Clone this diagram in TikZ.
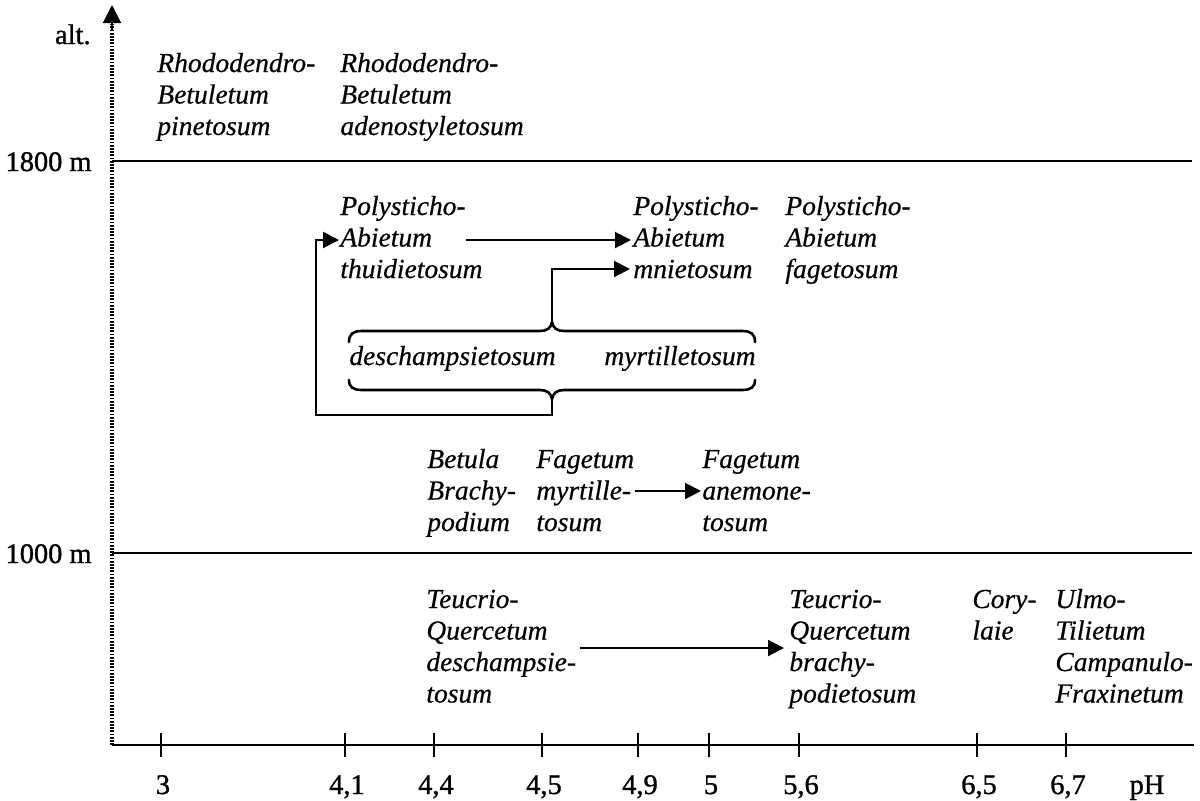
\documentclass[tikz,border=0pt]{standalone}
\usepackage{fontspec}
\setmainfont{Liberation Serif}
\newfontfamily\itf[FakeBold=0.5]{Liberation Serif}
\newfontfamily\labf[FakeBold=1.2]{Liberation Serif}
\usetikzlibrary{arrows.meta}
\newcommand\stk[1]{\begin{tabular}[t]{@{}l@{}}#1\end{tabular}}
\begin{document}
\begin{tikzpicture}[x=0.5pt,y=-0.5pt,
  txt/.style={anchor=base west, inner sep=0pt, font=\itf\fontsize{13.75}{15.75}\selectfont\itshape},
  lab/.style={inner sep=0pt, font=\labf\fontsize{14.2}{16}\selectfont},
  conn/.style={line width=1pt, -{Triangle[length=8pt,width=8pt]}},
  brace/.style={line width=1.3pt, line cap=round},
  lvl/.style={line width=1.1pt},
  tick/.style={line width=0.9pt}]
\useasboundingbox (0,0) rectangle (1200,800);

% axes
\coordinate (O) at (112,745);
\coordinate (Ytop) at (112,5);
\coordinate (Xend) at (1194,745);
\draw[line width=1.6pt, dash pattern=on 0.9pt off 0.7pt] (O) -- (112,24);
\draw[line width=1pt, -{Triangle[length=9pt,width=9pt]}] (112,30) -- (Ytop);
\draw[line width=1.4pt] (O) -- (Xend);
\coordinate (L18a) at (112,161); \coordinate (L18b) at (1192,161);
\coordinate (L10a) at (112,553); \coordinate (L10b) at (1192,553);
\draw[lvl] (L18a) -- (L18b);
\draw[lvl] (L10a) -- (L10b);

\node[lab, anchor=base east] (alt) at (91,44) {alt.};
\node[lab, anchor=base east] (m1800) at (92,171) {1800 m};
\node[lab, anchor=base east] (m1000) at (92,563) {1000 m};

% ticks and labels
\foreach \x/\l [count=\i] in {161/3,345/{4,1},434/{4,4},542/{4,5},638/{4,9},709/5,799/{5,6},977/{6,5},1066/{6,7}}{
  \draw[tick] (\x,733) -- (\x,757);
  \node[lab, anchor=base] (t\i) at (\x+2,794) {\l};
}
\node[lab, anchor=base] (pH) at (1147,794) {pH};

% texts
\node[txt] (A) at (157,72) {\stk{Rhododendro-\\Betuletum\\pinetosum}};
\node[txt] (B) at (340,72) {\stk{Rhododendro-\\Betuletum\\adenostyletosum}};
\node[txt] (C) at (340,215) {\stk{Polysticho-\\Abietum\\thuidietosum}};
\node[txt] (D) at (633,215) {\stk{Polysticho-\\Abietum\\mnietosum}};
\node[txt] (E) at (785,215) {\stk{Polysticho-\\Abietum\\fagetosum}};
\node[txt] (F1) at (349,365) {deschampsietosum};
\node[txt, anchor=base east] (F2) at (756,365) {myrtilletosum};
\node[txt] (G) at (427,468) {\stk{Betula\\Brachy-\\podium}};
\node[txt] (H) at (536,468) {\stk{Fagetum\\myrtille-\\tosum}};
\node[txt] (I) at (702,468) {\stk{Fagetum\\anemone-\\tosum}};
\node[txt] (J) at (426,608) {\stk{Teucrio-\\Quercetum\\deschampsie-\\tosum}};
\node[txt] (K) at (789,608) {\stk{Teucrio-\\Quercetum\\brachy-\\podietosum}};
\node[txt] (L) at (972,608) {\stk{Cory-\\laie}};
\node[txt] (M) at (1055,608) {\stk{Ulmo-\\Tilietum\\Campanulo-\\Fraxinetum}};

% braces
\coordinate (ub) at (552,322);
\coordinate (lb) at (552,399);
\draw[brace] (349,342) .. controls (349,334) and (353,331) .. (362,331) -- (540,331)
  .. controls (547,331) and (551,328) .. (ub)
  .. controls (553,328) and (557,331) .. (564,331) -- (742,331)
  .. controls (751,331) and (755,334) .. (755,342);
\draw[brace] (349,380) .. controls (349,387) and (353,390) .. (362,390) -- (540,390)
  .. controls (547,390) and (551,393) .. (lb)
  .. controls (553,393) and (557,390) .. (564,390) -- (742,390)
  .. controls (751,390) and (755,387) .. (755,380);

% connectors
\coordinate (Cab) at (466,240);
\coordinate (Dab) at (631,240);
\coordinate (Dmn) at (630,269);
\coordinate (Cin) at (339,240);
\draw[conn] (Cab) -- (Dab);
\draw[conn] (ub) -- (552,269) -- (Dmn);
\draw[conn] (lb) -- (552,415) -- (316,415) -- (316,240) -- (Cin);
\coordinate (Hm) at (635,491);
\coordinate (Im) at (701,491);
\draw[conn] (Hm) -- (Im);
\coordinate (Jq) at (580,648);
\coordinate (Kq) at (784,648);
\draw[conn] (Jq) -- (Kq);
\end{tikzpicture}
\end{document}
